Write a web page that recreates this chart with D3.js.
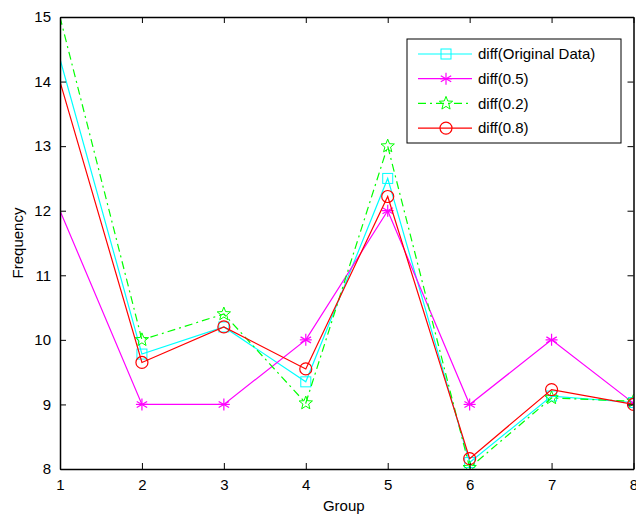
<!DOCTYPE html>
<html>
<head>
<meta charset="utf-8">
<script src="https://cdn.jsdelivr.net/npm/d3@7"></script>
<style>
  body { margin: 0; background: #fff; }
  svg { font-family: "Liberation Sans", Arial, sans-serif; }
</style>
</head>
<body>
<div id="chart"></div>
<script>
const groups = [1, 2, 3, 4, 5, 6, 7, 8];
const diffOriginal = [14.35, 9.78, 10.2, 9.35, 12.5, 8.1, 9.13, 9.03];
const diff05 = [12, 9, 9, 10, 12, 9, 10, 9.02];
const diff02 = [15, 10, 10.4, 9.02, 13, 8.02, 9.1, 9.05];
const diff08 = [14.0, 9.65, 10.2, 9.55, 12.22, 8.16, 9.23, 9.0];
const yTicks = [8, 9, 10, 11, 12, 13, 14, 15];

const series = [
  { name: "diff(Original Data)", values: diffOriginal, color: "#00ffff", dash: null, marker: "square" },
  { name: "diff(0.5)", values: diff05, color: "#ff00ff", dash: null, marker: "asterisk" },
  { name: "diff(0.2)", values: diff02, color: "#00ff00", dash: "8,4,2,4", marker: "star" },
  { name: "diff(0.8)", values: diff08, color: "#ff0000", dash: null, marker: "circle" }
];

const W = 636, H = 516;
const margin = { top: 17, right: 2.5, bottom: 47, left: 60 };
const width = W - margin.left - margin.right;
const height = H - margin.top - margin.bottom;

const svg = d3.select("#chart").append("svg")
  .attr("width", W).attr("height", H);
const g = svg.append("g").attr("transform", `translate(${margin.left},${margin.top})`);

const x = d3.scaleLinear().domain([1, 8]).range([0, width]);
const y = d3.scaleLinear().domain([8, 15]).range([height, 0]);

// clip to the axes box, like the original figure
svg.append("defs").append("clipPath").attr("id", "clip")
  .append("rect").attr("x", 0).attr("y", 0).attr("width", width).attr("height", height);

const line = d3.line().x((d, i) => x(groups[i])).y(d => y(d));

function drawMarker(sel, type, color, cx, cy) {
  if (type === "square") {
    sel.append("rect").attr("x", cx - 5).attr("y", cy - 5).attr("width", 10).attr("height", 10)
      .attr("fill", "none").attr("stroke", color).attr("stroke-width", 1);
  } else if (type === "circle") {
    sel.append("circle").attr("cx", cx).attr("cy", cy).attr("r", 6)
      .attr("fill", "none").attr("stroke", color).attr("stroke-width", 1.2);
  } else if (type === "asterisk") {
    const r = 6;
    [0, 60, 120].forEach(a => {
      const rad = (a + 90) * Math.PI / 180;
      sel.append("line")
        .attr("x1", cx - r * Math.cos(rad)).attr("y1", cy - r * Math.sin(rad))
        .attr("x2", cx + r * Math.cos(rad)).attr("y2", cy + r * Math.sin(rad))
        .attr("stroke", color).attr("stroke-width", 1.2);
    });
    sel.append("line").attr("x1", cx - r).attr("x2", cx + r).attr("y1", cy).attr("y2", cy)
      .attr("stroke", color).attr("stroke-width", 1.2);
  } else if (type === "star") {
    const pts = [];
    for (let k = 0; k < 10; k++) {
      const rr = k % 2 === 0 ? 7 : 3;
      const a = -Math.PI / 2 + k * Math.PI / 5;
      pts.push([cx + rr * Math.cos(a), cy + rr * Math.sin(a)]);
    }
    sel.append("polygon").attr("points", pts.map(p => p.join(",")).join(" "))
      .attr("fill", "none").attr("stroke", color).attr("stroke-width", 1);
  }
}

const plot = g.append("g").attr("clip-path", "url(#clip)");
series.forEach(s => {
  plot.append("path").datum(s.values)
    .attr("d", line).attr("fill", "none")
    .attr("stroke", s.color).attr("stroke-width", 1.2)
    .attr("stroke-dasharray", s.dash);
  const mg = plot.append("g");
  // markers on the first group are hidden behind the axis in the original
  s.values.forEach((v, i) => { if (i > 0) drawMarker(mg, s.marker, s.color, x(groups[i]), y(v)); });
});

// axes box with inward ticks
const tl = 6;
g.append("g").attr("transform", `translate(0,${height})`)
  .call(d3.axisBottom(x).tickValues(groups).tickFormat(d3.format("d")).tickSizeInner(-tl).tickSizeOuter(0).tickPadding(10));
g.append("g")
  .call(d3.axisTop(x).tickValues(groups).tickFormat("").tickSizeInner(-tl).tickSizeOuter(0));
g.append("g")
  .call(d3.axisLeft(y).tickValues(yTicks).tickFormat(d3.format("d")).tickSizeInner(-tl).tickSizeOuter(0).tickPadding(9));
g.append("g").attr("transform", `translate(${width},0)`)
  .call(d3.axisRight(y).tickValues(yTicks).tickFormat("").tickSizeInner(-tl).tickSizeOuter(0));

g.selectAll(".tick text").style("font-size", "15px").attr("fill", "#000");
g.selectAll(".domain").attr("stroke", "#000").attr("stroke-width", 1.5);
g.selectAll(".tick line").attr("stroke", "#000");

// legend
const lg = svg.append("g").attr("transform", "translate(407,39)");
lg.append("rect").attr("width", 214).attr("height", 104)
  .attr("fill", "#fff").attr("stroke", "#000").attr("stroke-width", 1);
series.forEach((s, i) => {
  const cy = 15 + i * 24.7;
  lg.append("line").attr("x1", 11).attr("x2", 65).attr("y1", cy).attr("y2", cy)
    .attr("stroke", s.color).attr("stroke-width", 1.2).attr("stroke-dasharray", s.dash);
  drawMarker(lg, s.marker, s.color, 39, cy);
  lg.append("text").attr("x", 71).attr("y", cy).attr("dy", "0.35em")
    .style("font-size", "15px").text(s.name);
});

// axis labels
svg.append("text").attr("x", margin.left + width / 2 - 3).attr("y", 511)
  .attr("text-anchor", "middle").style("font-size", "15px").text("Group");
svg.append("text").attr("transform", `translate(23,${margin.top + height / 2}) rotate(-90)`)
  .attr("text-anchor", "middle").style("font-size", "15px").text("Frequency");
</script>
</body>
</html>
